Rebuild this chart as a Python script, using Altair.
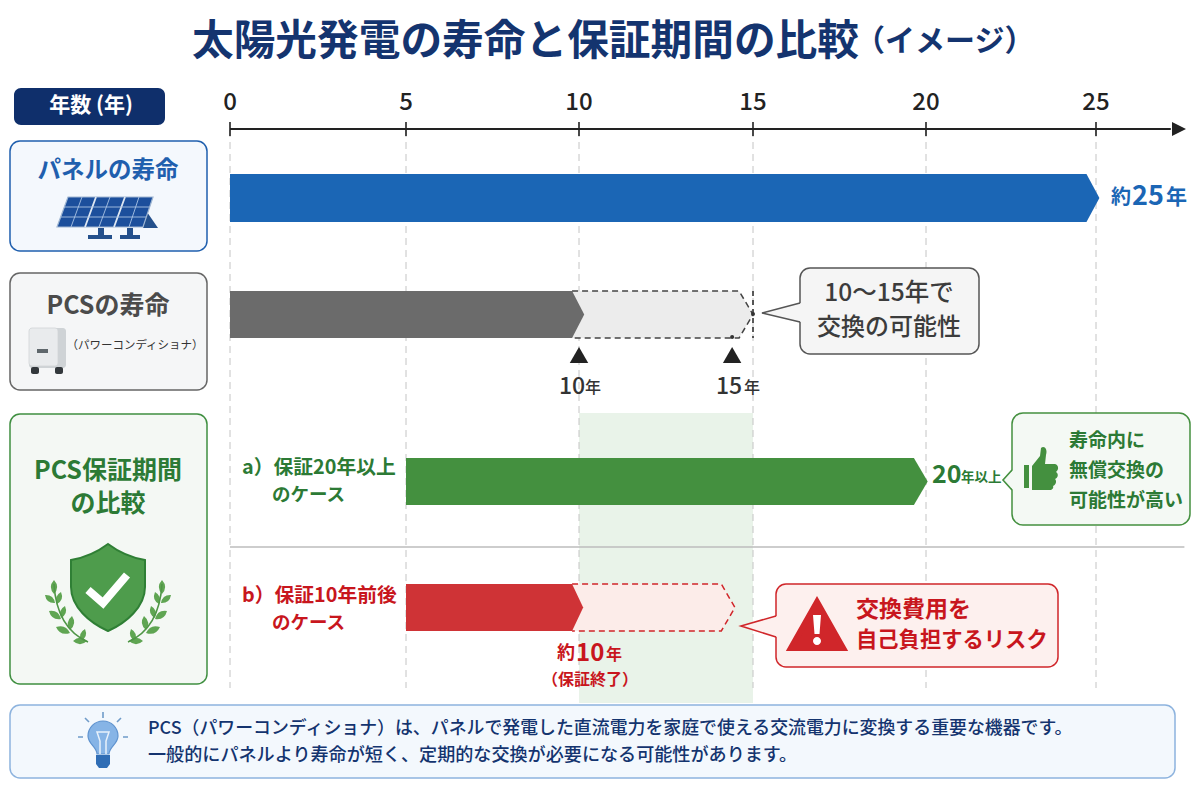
import altair as alt
import pandas as pd

# timeline values
tick_years = [0, 5, 10, 15, 20, 25]
tick_px = [222, 398, 571, 745, 918, 1088]   # where the years sit on the page
panel_bar = [0, 24.72, 25.1]
pcs_bar = [0, 9.8, 10.15]
pcs_ghost = [9.8, 14.6, 15.0]
green_bar = [5, 19.65, 20.05]
red_bar = [5, 9.8, 10.12]
red_ghost = [9.8, 14.09, 14.48]
marker_years = [10, 14.4]

NAVY = "#14346f"
BLUE = "#1b66b5"
GRAY = "#6b6b6b"
GREEN = "#44903f"
DKGREEN = "#2c7a35"
RED = "#cf3336"
DKRED = "#c8161d"
JP = "Noto Sans CJK JP"

xs = alt.Scale(domain=tick_years + [28], range=tick_px + [1190], zero=False, nice=False)
layers = []


def X(f="x"):
    return alt.X(f"{f}:Q", scale=None, axis=None)


def Y(f="y"):
    return alt.Y(f"{f}:Q", scale=None, axis=None)


def Yr(f="x"):
    return alt.X(f"{f}:Q", scale=xs, axis=None)


def box(x0, y0, x1, y1, fill, stroke=None, radius=0, sw=1.5):
    df = pd.DataFrame({"x": [x0 - 8], "x2": [x1 - 8], "y": [y0 - 8], "y2": [y1 - 8]})
    kw = {"stroke": stroke, "strokeWidth": sw} if stroke else {}
    layers.append(alt.Chart(df).mark_rect(fill=fill, cornerRadius=radius, **kw).encode(
        x=X(), x2="x2:Q", y=Y(), y2="y2:Q"))


def txt(x, y, s, size, color, align="left", weight="bold"):
    df = pd.DataFrame({"x": [x - 8], "y": [y - 8], "t": [s]})
    layers.append(alt.Chart(df).mark_text(font=JP, fontSize=size, color=color, align=align,
                                          baseline="middle", fontWeight=weight).encode(
        x=X(), y=Y(), text="t:N"))


def chevron(v, top, bot, fill):
    df = pd.DataFrame({"x": v, "y": [top - 8, top - 8, (top + bot) / 2 - 8],
                       "y2": [bot - 8, bot - 8, (top + bot) / 2 - 8]})
    layers.append(alt.Chart(df).mark_area(fill=fill, orient="vertical", opacity=1).encode(
        x=Yr(), y=Y(), y2="y2:Q"))


def dashed(v, top, bot, color):
    mid = (top + bot) / 2 - 8
    df = pd.DataFrame({"i": range(5),
                       "x": [v[0], v[1], v[2], v[1], v[0]],
                       "y": [top - 8, top - 8, mid, bot - 8, bot - 8]})
    layers.append(alt.Chart(df).mark_line(color=color, strokeWidth=1.5, strokeDash=[6, 4]).encode(
        x=Yr(), y=Y(), order="i:Q"))


def tail(tipx, tipy, basex, y0, y1, fill, stroke):
    # little pointer on the left side of a callout
    df = pd.DataFrame({"x": [tipx - 8, basex - 8 + 1], "y": [tipy - 8, y0 - 8], "y2": [tipy - 8, y1 - 8]})
    layers.append(alt.Chart(df).mark_area(fill=fill, orient="vertical", opacity=1).encode(
        x=X(), y=Y(), y2="y2:Q"))
    df = pd.DataFrame({"i": [0, 1, 2], "x": [basex - 8, tipx - 8, basex - 8], "y": [y0 - 8, tipy - 8, y1 - 8]})
    layers.append(alt.Chart(df).mark_line(color=stroke, strokeWidth=1.6).encode(
        x=X(), y=Y(), order="i:Q"))


def icon(x, y, path, fill=None, stroke=None, sw=1):
    # size 4 makes one path unit one pixel
    df = pd.DataFrame({"x": [x - 8], "y": [y - 8]})
    kw = {"filled": fill is not None, "opacity": 1, "size": 4, "shape": path}
    if fill:
        kw["fill"] = fill
    if stroke:
        kw["stroke"] = stroke
        kw["strokeWidth"] = sw
    layers.append(alt.Chart(df).mark_point(**kw).encode(x=X(), y=Y()))


def leaf(cx, cy, dx, dy):
    # pointed leaf centred on cx,cy with half-length vector dx,dy
    nx, ny = -dy * 0.9, dx * 0.9
    return (f"M{cx - dx},{cy - dy}Q{cx + nx},{cy + ny} {cx + dx},{cy + dy}"
            f"Q{cx - nx},{cy - ny} {cx - dx},{cy - dy}Z")


# title
txt(192, 42, "太陽光発電の寿命と保証期間の比較", 41.7, NAVY)
txt(855, 42, "（イメージ）", 30, NAVY)

# highlight band under everything
band = pd.DataFrame({"x": [10], "x2": [15], "y": [413 - 8], "y2": [703 - 8]})
layers.append(alt.Chart(band).mark_rect(fill="#e9f3e9").encode(x=Yr(), x2="x2:Q", y=Y(), y2="y2:Q"))

# guide lines
guides = pd.DataFrame({"x": tick_years, "y": [130 - 8] * 6, "y2": [688 - 8] * 6})
layers.append(alt.Chart(guides).mark_rule(color="#c4c4c4", strokeWidth=1, strokeDash=[7, 5]).encode(
    x=Yr(), y=Y(), y2="y2:Q"))

# separator
sep = pd.DataFrame({"x": [0], "x2": [27.6], "y": [547 - 8]})
layers.append(alt.Chart(sep).mark_rule(color="#bdbdbd", strokeWidth=1.5).encode(x=Yr(), x2="x2:Q", y=Y()))

# axis
axis_line = pd.DataFrame({"x": [0], "x2": [27.2], "y": [129 - 8]})
layers.append(alt.Chart(axis_line).mark_rule(color="#222222", strokeWidth=2).encode(x=Yr(), x2="x2:Q", y=Y()))
ticks = pd.DataFrame({"x": tick_years, "y": [122 - 8] * 6, "y2": [136 - 8] * 6})
layers.append(alt.Chart(ticks).mark_rule(color="#222222", strokeWidth=1.6).encode(x=Yr(), y=Y(), y2="y2:Q"))
tick_text = pd.DataFrame({"x": tick_years, "y": [103 - 8] * 6, "t": [str(v) for v in tick_years]})
layers.append(alt.Chart(tick_text).mark_text(font=JP, fontSize=24, color="#222222", fontWeight=500,
                                             baseline="middle").encode(x=Yr(), y=Y(), text="t:N"))
icon(1179, 129, "M-7,-7L7,0L-7,7Z", fill="#222222")

# left column
box(14, 88, 165, 125, "#0f2f6b", radius=7)
txt(91, 106, "年数 (年)", 21, "#ffffff", "center")

box(10, 141, 207, 251, "#f4f8fd", "#1f5fae", 10)
txt(108, 171, "パネルの寿命", 23.5, "#1f5fae", "center")
icon(105, 212, "M42,0L53,16L38,16Z", fill="#24508c")
icon(105, 212, "M-37,-15L48,-15L38,15L-48,15Z", fill="#1c4f9c", stroke="#9fb6d2", sw=1.2)
icon(105, 212, "M-9,-15L-20,15M20,-15L9,15", stroke="#dfe8f3", sw=1.8)
icon(105, 212, "M-23,-15L-34,15M5,-15L-6,15M34,-15L24,15M-41,-5L44,-5M-45,5L41,5", stroke="#a9c3e3", sw=0.9)
icon(105, 212, "M-7,16L-1,16L-1,23L7,23L7,27L-17,27L-17,23L-7,23Z", fill="#24508c")
icon(105, 212, "M22,16L28,16L28,23L35,23L35,27L15,27L15,23L22,23Z", fill="#24508c")

box(10, 273, 207, 390, "#f5f6f7", "#666666", 10)
txt(108, 306, "PCSの寿命", 25, "#4b4b4b", "center")
box(29, 328, 66, 368, "#cfd3d6", radius=3)
box(29, 328, 58, 366, "#e9ebed", "#d0d4d7", 3, 0.8)
box(37, 349, 48, 353, "#5f676c")
box(31, 367, 39, 374, "#33383c", radius=2)
box(55, 367, 63, 374, "#33383c", radius=2)
txt(135, 346, "（パワーコンディショナ）", 11.5, "#333333", "center", "normal")

box(10, 414, 207, 684, "#f4f8f4", "#3f8f40", 10)
txt(108, 471, "PCS保証期間", 25, DKGREEN, "center")
txt(108, 504, "の比較", 25, DKGREEN, "center")
icon(108, 587, "M0,-43C-12,-34 -25,-29 -37,-27L-37,0C-37,20 -18,36 0,44C18,36 37,20 37,0L37,-27C25,-29 12,-34 0,-43Z",
     fill="#4e9c4c", stroke="#2f7f35", sw=2)
icon(108, 587, "M-20,3L-5,16L19,-12", stroke="#ffffff", sw=8)
left = [(54, 587, 0, 7), (50, 599, -5, -4), (59, 598, 2, -6), (55, 615, -6, -4), (63, 612, 2, -6),
        (63, 630, -7, -3), (71, 623, 1, -7), (83, 635, 2, -6), (80, 641, -7, 0)]
leaves_l = "".join(leaf(x - 108, y - 600, dx, dy) for x, y, dx, dy in left)
leaves_r = "".join(leaf(108 - x, y - 600, -dx, dy) for x, y, dx, dy in left)
icon(108, 600, leaves_l + leaves_r, fill="#5fa552")
icon(108, 600, "M-20,42C-38,34 -52,18 -54,-16M20,42C38,34 52,18 54,-16", stroke="#4f9646", sw=1.6)

# panel life
chevron(panel_bar, 174, 222, BLUE)
txt(1111, 198, "約", 20, BLUE)
txt(1132, 197, "25", 27, BLUE)
txt(1166, 198, "年", 21, BLUE)

# PCS life
chevron(pcs_ghost, 291, 338, "#ececec")
chevron(pcs_bar, 291, 338, GRAY)
dashed(pcs_ghost, 291, 338, "#444444")
vdash = pd.DataFrame({"x": [15.0], "y": [291 - 8], "y2": [338 - 8]})
layers.append(alt.Chart(vdash).mark_rule(color="#333333", strokeWidth=1.6, strokeDash=[5, 4]).encode(
    x=Yr(), y=Y(), y2="y2:Q"))
dots = pd.DataFrame({"x": [15.0, 14.4], "y": [314 - 8, 337 - 8]})
layers.append(alt.Chart(dots).mark_point(shape="circle", size=16, filled=True, fill="#333333",
                                         opacity=1).encode(x=Yr(), y=Y()))
marks = pd.DataFrame({"x": marker_years, "y": [355 - 8] * 2})
layers.append(alt.Chart(marks).mark_point(shape="triangle-up", size=340, filled=True, fill="#222222",
                                          opacity=1).encode(x=Yr(), y=Y()))
txt(559, 387, "10", 23, "#333333", weight=500)
txt(585, 388, "年", 16, "#333333", weight=500)
txt(716, 387, "15", 23, "#333333", weight=500)
txt(744, 388, "年", 16, "#333333", weight=500)

box(800, 268, 979, 354, "#f5f5f5", "#555555", 10)
tail(762, 313, 800, 303, 322, "#f5f5f5", "#555555")
txt(889, 294, "10～15年で", 24.5, "#3c3c3c", "center", 500)
txt(889, 328, "交換の可能性", 24, "#3c3c3c", "center", 500)

# case a
txt(242, 468, "a）保証20年以上", 19.8, DKGREEN)
txt(272, 495, "のケース", 18.5, DKGREEN)
chevron(green_bar, 458, 505, GREEN)
txt(932, 475, "20", 25, DKGREEN)
txt(961, 478, "年以上", 13.5, DKGREEN)

box(1012, 413, 1190, 525, "#f4f9f4", GREEN, 11)
tail(1003, 480, 1012, 470, 490, "#f4f9f4", GREEN)
box(1024, 465, 1029, 488, GREEN)
icon(1040, 468, "M-8,-2L0,-12L1,-20C4,-23 8,-19 6,-13L5,-4L15,-4C19,-3 19,2 16,4C19,6 18,10 15,11"
     "C17,13 16,17 13,18C14,20 12,22 10,22L-8,22Z", fill=GREEN)
txt(1069, 441, "寿命内に", 19, DKGREEN)
txt(1069, 471, "無償交換の", 19, DKGREEN)
txt(1069, 501, "可能性が高い", 19, DKGREEN)

# case b
txt(242, 596, "b）保証10年前後", 19.8, DKRED)
txt(272, 623, "のケース", 18.5, DKRED)
chevron(red_ghost, 584, 631, "#fcece9")
chevron(red_bar, 584, 631, RED)
dashed(red_ghost, 584, 631, "#d0262a")
txt(557, 654, "約", 18, DKRED)
txt(576, 654, "10", 24, DKRED)
txt(606, 655, "年", 16, DKRED)
txt(590, 680, "（保証終了）", 16, DKRED, "center")

box(776, 584, 1058, 667, "#fdf0ee", "#d0262a", 10)
tail(741, 626, 776, 616, 637, "#fdf0ee", "#d0262a")
icon(817, 627, "M0,-25L26,21L-26,21Z", fill="#d0262a", stroke="#d0262a", sw=6)
icon(817, 627, "M-4,-12L4,-12L2.5,7L-2.5,7ZM0,10A4,4 0 1 1 0,18A4,4 0 1 1 0,10Z", fill="#ffffff")
txt(856, 610, "交換費用を", 23, DKRED)
txt(856, 641, "自己負担するリスク", 21.3, DKRED)

# note
box(10, 705, 1175, 778, "#f3f8fd", "#8db3de", 10)
icon(103, 737, "M-6,17C-6,10 -15,7 -15,-1A15,15 0 1 1 15,-1C15,7 6,10 6,17Z", fill="#86b4e6", stroke="#5f93cf", sw=1.2)
icon(103, 737, "M-3,17L-3,4L-6,-5L6,-5L3,4L3,17", stroke="#e8f1fb", sw=1.5)
icon(103, 737, "M-7,18L7,18L7,27L4,31L-4,31L-7,27Z", fill="#2f6db5")
icon(103, 737, "M0,-19L0,-25M-14,-15L-18,-19M14,-15L18,-19M-20,0L-25,0M20,0L25,0", stroke="#6f9bc9", sw=1.6)
txt(148, 729, "PCS（パワーコンディショナ）は、パネルで発電した直流電力を家庭で使える交流電力に変換する重要な機器です。", 17.9, NAVY, weight=500)
txt(148, 756, "一般的にパネルより寿命が短く、定期的な交換が必要になる可能性があります。", 18.1, NAVY, weight=500)

chart = alt.layer(*layers).properties(
    width=1184, height=784, padding=0, autosize=alt.AutoSizeParams(type="none")
).configure_view(stroke=None)

chart.save("out.html", embed_options={"renderer": "svg", "actions": False})
